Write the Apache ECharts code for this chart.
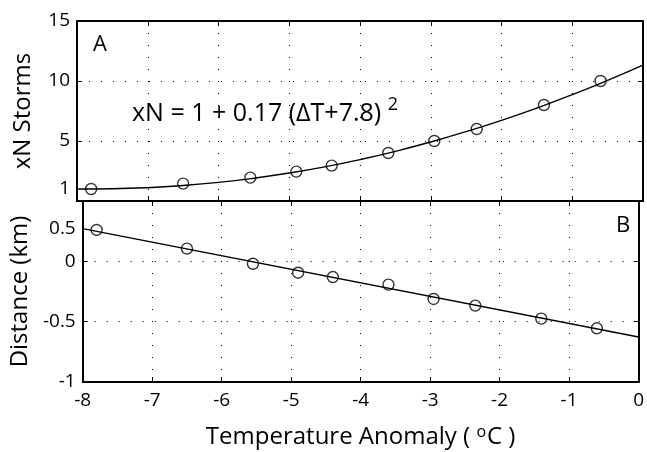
<!DOCTYPE html>
<html>
<head>
<meta charset="utf-8">
<script src="https://cdn.jsdelivr.net/npm/echarts@6/dist/echarts.min.js"></script>
<style>
html,body{margin:0;padding:0;background:#fff;}
#c{width:647px;height:452px;}
</style>
</head>
<body>
<div id="c"></div>
<script>
// Panel A: storm counts
var stormX = [-7.8, -6.5, -5.55, -4.9, -4.4, -3.6, -2.95, -2.35, -1.4, -0.6];
var stormY = [1.0, 1.45, 1.95, 2.45, 2.95, 4.0, 5.0, 6.0, 8.0, 10.0];
// Fitted curve
var fitAX = [-8, -7.5, -7, -6.5, -6, -5.5, -5, -4.5, -4, -3.5, -3, -2.5, -2, -1.5, -1, -0.5, 0];
var fitAY = [1.0, 1.02, 1.11, 1.29, 1.55, 1.9, 2.33, 2.84, 3.45, 4.14, 4.92, 5.78, 6.72, 7.75, 8.86, 10.06, 11.33];
// Panel B: distance
var distX = [-7.8, -6.5, -5.55, -4.9, -4.4, -3.6, -2.95, -2.35, -1.4, -0.6];
var distY = [0.26, 0.105, -0.02, -0.094, -0.13, -0.193, -0.312, -0.367, -0.475, -0.555];
var fitBX = [-8, 0];
var fitBY = [0.271, -0.627];
// Tick labels
var xTicks = [-8, -7, -6, -5, -4, -3, -2, -1, 0];
var yTicksA = [1, 5, 10, 15];
var yTickValuesB = [-1, -0.5, 0, 0.27];
var yTickLabelsB = ['-1', '-0.5', '0', '0.5'];

var FONT = 'Open Sans';
var chart = echarts.init(document.getElementById('c'));

function pairs(xs, ys) { return xs.map(function (x, i) { return [x, ys[i]]; }); }

var dotted = { type: [1, 11], color: '#000', width: 1 };
var axLine = { show: true, onZero: false, lineStyle: { color: '#000', width: 2 } };
var tickIn = { show: true, inside: true, length: 5, lineStyle: { color: '#000', width: 1 } };
var lblStyle = { color: '#000', fontFamily: FONT, fontSize: 19 };

var option = {
  backgroundColor: '#fff',
  animation: false,
  grid: [
    { left: 77, top: 21, width: 566, height: 180 },
    { left: 77, top: 201, width: 566, height: 181 }
  ],
  xAxis: [
    { gridIndex: 0, type: 'value', min: -8, max: 0, interval: 1, position: 'bottom',
      axisLine: axLine, axisTick: tickIn, axisLabel: { show: false },
      splitLine: { show: true, lineStyle: dotted } },
    { gridIndex: 0, type: 'value', min: -8, max: 0, interval: 1, position: 'top',
      axisLine: axLine, axisTick: tickIn, axisLabel: { show: false }, splitLine: { show: false } },
    { gridIndex: 1, type: 'value', min: -8, max: 0, interval: 1, position: 'bottom',
      axisLine: axLine, axisTick: tickIn,
      axisLabel: Object.assign({ margin: 9, customValues: xTicks }, lblStyle),
      splitLine: { show: true, lineStyle: dotted },
      name: 'Temperature Anomaly ( {sup|o}C )', nameLocation: 'middle', nameGap: 42,
      nameTextStyle: { color: '#000', fontFamily: FONT, fontSize: 24,
        rich: { sup: { fontFamily: FONT, fontSize: 16, verticalAlign: 'top', padding: [0, 1, 10, 0], color: '#000' } } } },
    { gridIndex: 1, type: 'value', min: -8, max: 0, interval: 1, position: 'top',
      axisLine: axLine, axisTick: tickIn, axisLabel: { show: false }, splitLine: { show: false } }
  ],
  yAxis: [
    { gridIndex: 0, type: 'value', min: 0, max: 15, interval: 5, position: 'left',
      axisLine: axLine, axisTick: tickIn,
      axisLabel: Object.assign({ margin: 7, customValues: yTicksA }, lblStyle),
      splitLine: { show: true, lineStyle: dotted },
      name: 'xN Storms', nameLocation: 'middle', nameGap: 42,
      nameTextStyle: { color: '#000', fontFamily: FONT, fontSize: 24 } },
    { gridIndex: 0, type: 'value', min: 0, max: 15, interval: 5, position: 'right',
      axisLine: axLine, axisTick: tickIn, axisLabel: { show: false }, splitLine: { show: false } },
    { gridIndex: 1, type: 'value', min: -1, max: 0.5, interval: 0.5, position: 'left',
      axisLine: axLine, axisTick: tickIn,
      axisLabel: Object.assign({ margin: 7, customValues: yTickValuesB,
        formatter: function (v) { var i = yTickValuesB.indexOf(v); return i >= 0 ? yTickLabelsB[i] : ''; } }, lblStyle),
      splitLine: { show: true, lineStyle: dotted },
      name: 'Distance (km)', nameLocation: 'middle', nameGap: 50,
      nameTextStyle: { color: '#000', fontFamily: FONT, fontSize: 24 } },
    { gridIndex: 1, type: 'value', min: -1, max: 0.5, interval: 0.5, position: 'right',
      axisLine: axLine, axisTick: tickIn, axisLabel: { show: false }, splitLine: { show: false } }
  ],
  series: [
    { type: 'line', xAxisIndex: 0, yAxisIndex: 0, data: pairs(fitAX, fitAY), smooth: true,
      showSymbol: false, lineStyle: { color: '#000', width: 1.4 }, z: 2 },
    { type: 'scatter', xAxisIndex: 0, yAxisIndex: 0, data: pairs(stormX, stormY), symbol: 'circle',
      symbolSize: 11, itemStyle: { color: 'rgba(255,255,255,0)', borderColor: '#000', borderWidth: 1.4 }, z: 3 },
    { type: 'line', xAxisIndex: 2, yAxisIndex: 2, data: pairs(fitBX, fitBY),
      showSymbol: false, lineStyle: { color: '#000', width: 1.4 }, z: 2 },
    { type: 'scatter', xAxisIndex: 2, yAxisIndex: 2, data: pairs(distX, distY), symbol: 'circle',
      symbolSize: 11, itemStyle: { color: 'rgba(255,255,255,0)', borderColor: '#000', borderWidth: 1.4 }, z: 3 }
  ],
  graphic: [
    { type: 'text', left: 93, top: 34, style: { text: 'A', fontFamily: FONT, fontSize: 22, fill: '#000' } },
    { type: 'text', left: 616, top: 215, style: { text: 'B', fontFamily: FONT, fontSize: 22, fill: '#000' } },
    { type: 'text', left: 132, top: 96, style: {
        text: 'xN = 1 + 0.17 (ΔT+7.8) {s|2}', fontFamily: FONT, fontSize: 25, fill: '#000',
        rich: { s: { fontFamily: FONT, fontSize: 18, verticalAlign: 'top', padding: [0, 0, 18, 0], fill: '#000' } } } }
  ]
};
chart.setOption(option);
</script>
</body>
</html>
